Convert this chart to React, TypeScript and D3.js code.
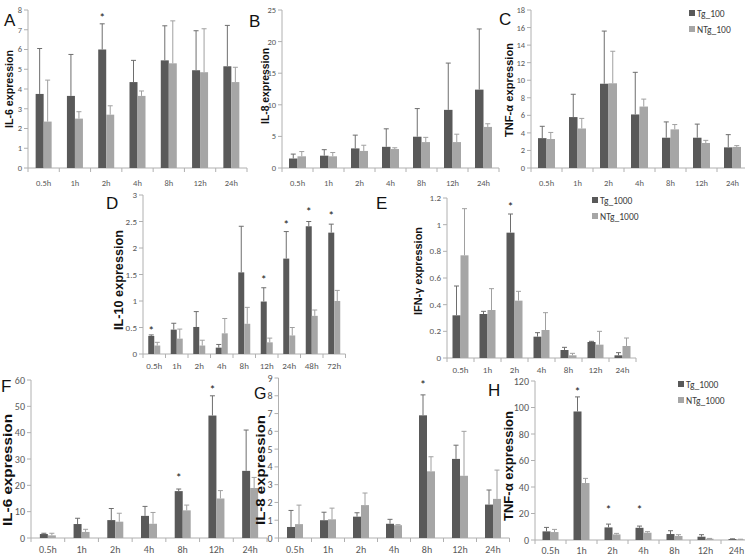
import * as d3 from 'd3'

const cats7 = ['0.5h', '1h', '2h', '4h', '8h', '12h', '24h']
const cats9 = ['0.5h', '1h', '2h', '4h', '8h', '12h', '24h', '48h', '72h']

// A: IL-6, dose 100
const aTg = [3.75, 3.65, 6.0, 4.35, 5.45, 4.95, 5.15]
const aTgErr = [2.3, 2.1, 1.3, 1.1, 1.75, 2.0, 2.07]
const aNTg = [2.35, 2.5, 2.7, 3.65, 5.3, 4.85, 4.35]
const aNTgErr = [2.1, 0.35, 0.45, 0.25, 2.15, 2.2, 0.75]
const aStars: [string, number][] = [['2h', 7.75]]

// B: IL-8, dose 100
const bTg = [1.5, 1.95, 3.1, 3.35, 4.95, 9.2, 12.4]
const bTgErr = [0.7, 0.95, 2.1, 2.85, 4.45, 7.4, 9.6]
const bNTg = [1.85, 1.85, 2.7, 3.0, 4.1, 4.1, 6.5]
const bNTgErr = [0.75, 0.6, 0.9, 0.2, 0.75, 1.25, 0.5]

// C: TNF-a, dose 100
const cTg = [3.4, 5.8, 9.6, 6.1, 3.45, 3.45, 2.35]
const cTgErr = [1.35, 2.6, 6.0, 4.8, 1.8, 1.55, 1.45]
const cNTg = [3.3, 4.5, 9.65, 7.0, 4.4, 2.85, 2.4]
const cNTgErr = [0.75, 1.15, 3.65, 0.85, 0.55, 0.3, 0.15]

// D: IL-10
const dTg = [0.34, 0.46, 0.51, 0.12, 1.54, 0.99, 1.8, 2.41, 2.29]
const dTgErr = [0.02, 0.12, 0.29, 0.06, 0.87, 0.26, 0.51, 0.09, 0.16]
const dNTg = [0.16, 0.29, 0.16, 0.39, 0.57, 0.22, 0.35, 0.72, 1.0]
const dNTgErr = [0.06, 0.18, 0.1, 0.28, 0.31, 0.08, 0.15, 0.11, 0.2]
const dStars: [string, number][] = [['0.5h', 0.5], ['12h', 1.45], ['24h', 2.5], ['48h', 2.74], ['72h', 2.66]]

// E: IFN-g, dose 1000
const eTg = [0.32, 0.33, 0.94, 0.16, 0.06, 0.12, 0.02]
const eTgErr = [0.22, 0.02, 0.14, 0.03, 0.02, 0.005, 0.02]
const eNTg = [0.77, 0.36, 0.43, 0.21, 0.02, 0.1, 0.09]
const eNTgErr = [0.35, 0.16, 0.07, 0.13, 0.015, 0.1, 0.06]
const eStars: [string, number][] = [['2h', 1.155]]

// F: IL-6, dose 1000
const fTg = [1.5, 5.3, 6.8, 8.4, 17.8, 46.5, 25.5]
const fTgErr = [0.3, 2.2, 4.4, 3.6, 0.8, 7.5, 15.5]
const fNTg = [1.0, 2.3, 6.2, 5.4, 10.5, 15, 19]
const fNTgErr = [0.8, 1.0, 3.2, 4.3, 2.0, 3.0, 4.0]
const fStars: [string, number][] = [['8h', 24], ['12h', 57.5]]

// G: IL-8, dose 1000
const gTg = [0.62, 1.0, 1.2, 0.8, 6.9, 4.45, 1.88]
const gTgErr = [0.93, 0.45, 0.22, 0.25, 1.15, 0.77, 0.82]
const gNTg = [0.78, 1.05, 1.85, 0.72, 3.75, 3.5, 2.2]
const gNTgErr = [1.07, 0.63, 0.68, 0.03, 0.82, 2.5, 1.62]
const gStars: [string, number][] = [['8h', 8.75]]

// H: TNF-a, dose 1000
const hTg = [6.5, 97, 9.5, 9.2, 4.5, 2.5, 0.7]
const hTgErr = [3, 11, 2.5, 1.3, 2.5, 1.5, 0.2]
const hNTg = [6, 43, 4.2, 5.5, 3, 1, 0.4]
const hNTgErr = [2, 3.5, 0.8, 0.8, 1, 0.2, 0.2]
const hStars: [string, number][] = [['1h', 114], ['2h', 25], ['4h', 25]]

const TG = '#595959'
const NTG = '#a6a6a6'
const AXIS = '#b0b0b0'
const FONT = "'Carlito', 'Liberation Sans Narrow', 'Liberation Sans', Arial, sans-serif"

interface Panel {
  letter: string
  title: string
  cats: string[]
  tg: number[]
  tgErr: number[]
  ntg: number[]
  ntgErr: number[]
  max: number
  step: number
  stars: [string, number][]
  legend?: string[]
  // layout
  x0: number
  x1: number
  y0: number
  yTop: number
  barW: number
  fs: number
  labelDy: number
  letterAt: [number, number, number]
  titleAt: [number, number, number, number]
  legendAt?: [number, number]
}

const panels: Panel[] = [
  { letter: 'A', title: 'IL-6 expression', cats: cats7, tg: aTg, tgErr: aTgErr, ntg: aNTg, ntgErr: aNTgErr, max: 8, step: 1, stars: aStars,
    x0: 28, x1: 247, y0: 168, yTop: 10, barW: 8, fs: 8.5, labelDy: 18, letterAt: [4, 26, 17], titleAt: [9, 89, 78, 11.5] },
  { letter: 'B', title: 'IL-8 expression', cats: cats7, tg: bTg, tgErr: bTgErr, ntg: bNTg, ntgErr: bNTgErr, max: 25, step: 5, stars: [],
    x0: 282, x1: 499, y0: 168, yTop: 10, barW: 8.5, fs: 8.5, labelDy: 18, letterAt: [249, 27, 17], titleAt: [265, 86, 76, 11.5] },
  { letter: 'C', title: 'TNF-α expression', cats: cats7, tg: cTg, tgErr: cTgErr, ntg: cNTg, ntgErr: cNTgErr, max: 18, step: 2, stars: [],
    legend: ['Tg_100', 'NTg_100'],
    x0: 531, x1: 748, y0: 168, yTop: 10, barW: 8.5, fs: 8.5, labelDy: 18, letterAt: [499, 25, 17], titleAt: [509, 90, 94, 11.5], legendAt: [689, 10] },
  { letter: 'D', title: 'IL-10  expression', cats: cats9, tg: dTg, tgErr: dTgErr, ntg: dNTg, ntgErr: dNTgErr, max: 3, step: 0.5, stars: dStars,
    x0: 143, x1: 345.5, y0: 354, yTop: 195, barW: 6, fs: 9, labelDy: 15, letterAt: [106, 209, 17], titleAt: [119, 280, 100, 12] },
  { letter: 'E', title: 'IFN-γ expression', cats: cats7, tg: eTg, tgErr: eTgErr, ntg: eNTg, ntgErr: eNTgErr, max: 1.2, step: 0.2, stars: eStars,
    legend: ['Tg_1000', 'NTg_1000'],
    x0: 447, x1: 636, y0: 358, yTop: 198, barW: 8, fs: 9, labelDy: 15, letterAt: [376, 209, 17], titleAt: [418, 271, 88, 11.5], legendAt: [592, 197] },
  { letter: 'F', title: 'IL-6 expression', cats: cats7, tg: fTg, tgErr: fTgErr, ntg: fNTg, ntgErr: fNTgErr, max: 60, step: 10, stars: fStars,
    x0: 31, x1: 267, y0: 538, yTop: 380, barW: 8, fs: 10, labelDy: 15, letterAt: [1, 392, 17], titleAt: [7, 470, 112, 13.5] },
  { letter: 'G', title: 'IL-8 expression', cats: cats7, tg: gTg, tgErr: gTgErr, ntg: gNTg, ntgErr: gNTgErr, max: 9, step: 1, stars: gStars,
    x0: 278.5, x1: 509.5, y0: 538, yTop: 378, barW: 8, fs: 10, labelDy: 15, letterAt: [254, 399, 16], titleAt: [260, 470, 110, 13.5] },
  { letter: 'H', title: 'TNF-α expression', cats: cats7, tg: hTg, tgErr: hTgErr, ntg: hNTg, ntgErr: hNTgErr, max: 120, step: 20, stars: hStars,
    legend: ['Tg_1000', 'NTg_1000'],
    x0: 535, x1: 752, y0: 540, yTop: 381, barW: 8, fs: 10, labelDy: 14, letterAt: [488, 396, 17], titleAt: [508, 466, 110, 13.5], legendAt: [678, 381] },
]

function PanelChart({ p }: { p: Panel }) {
  const x = d3.scaleBand<string>().domain(p.cats).range([p.x0, p.x1]).padding(0)
  const y = d3.scaleLinear().domain([0, p.max]).range([p.y0, p.yTop])
  const ticks = d3.range(0, p.max + p.step / 2, p.step).map(v => +v.toFixed(2))
  const bounds = d3.range(p.cats.length + 1).map(i => p.x0 + i * x.bandwidth())
  const cap = 2.5

  const series = [
    { vals: p.tg, errs: p.tgErr, fill: TG, err: '#6e6e6e', off: -p.barW },
    { vals: p.ntg, errs: p.ntgErr, fill: NTG, err: '#a0a0a0', off: 0 },
  ]

  return (
    <g fontFamily={FONT}>
      {/* y axis */}
      <line x1={p.x0} x2={p.x0} y1={p.yTop} y2={p.y0} stroke={AXIS} />
      {ticks.map(t => (
        <g key={t}>
          <line x1={p.x0 - 4} x2={p.x0} y1={y(t)} y2={y(t)} stroke={AXIS} />
          <text x={p.x0 - 6} y={y(t)} dy="0.35em" textAnchor="end" fontSize={p.fs} fill="#595959">{t}</text>
        </g>
      ))}

      {/* x axis */}
      <line x1={p.x0} x2={p.x1} y1={p.y0} y2={p.y0} stroke={AXIS} />
      {bounds.map(b => (
        <line key={b} x1={b} x2={b} y1={p.y0} y2={p.y0 + 4} stroke={AXIS} />
      ))}
      {p.cats.map(c => (
        <text key={c} x={x(c)! + x.bandwidth() / 2} y={p.y0 + p.labelDy} textAnchor="middle" fontSize={p.fs} fill="#595959">{c}</text>
      ))}

      {/* bars + error bars */}
      {series.map((s, si) =>
        p.cats.map((c, i) => {
          const cx = x(c)! + x.bandwidth() / 2 + s.off
          const top = y(s.vals[i])
          const et = y(s.vals[i] + s.errs[i])
          const mid = cx + p.barW / 2
          return (
            <g key={`${si}-${c}`}>
              <rect x={cx} y={top} width={p.barW} height={p.y0 - top} fill={s.fill} />
              <line x1={mid} x2={mid} y1={top} y2={et} stroke={s.err} strokeWidth={1} />
              <line x1={mid - cap} x2={mid + cap} y1={et} y2={et} stroke={s.err} strokeWidth={1} />
            </g>
          )
        })
      )}

      {/* significance */}
      {p.stars.map(([c, v]) => (
        <text key={c} x={x(c)! + x.bandwidth() / 2 - p.barW / 2} y={y(v) + 7} textAnchor="middle" fontSize={12} fill="#222">*</text>
      ))}

      {/* panel letter */}
      <text x={p.letterAt[0]} y={p.letterAt[1]} fontSize={p.letterAt[2]} fill="#111" fontFamily="'Liberation Sans', Arial, sans-serif">{p.letter}</text>

      {/* y title */}
      <text
        transform={`translate(${p.titleAt[0]},${p.titleAt[1]}) rotate(-90)`}
        textAnchor="middle"
        dominantBaseline="central"
        fontSize={p.titleAt[3]}
        fontWeight="bold"
        fill="#111"
        fontFamily="'Liberation Sans', Arial, sans-serif"
        textLength={p.titleAt[2]}
        lengthAdjust="spacingAndGlyphs"
      >{p.title}</text>

      {/* legend */}
      {p.legend && p.legendAt && p.legend.map((name, i) => (
        <g key={name} transform={`translate(${p.legendAt![0]},${p.legendAt![1] + i * 16})`}>
          <rect x={0} y={0} width={6} height={6} fill={i === 0 ? TG : NTG} />
          <text x={8} y={6.5} fontSize={9.5} fill="#404040">{name}</text>
        </g>
      ))}
    </g>
  )
}

export default function App() {
  return (
    <svg width={745} height={557} style={{ position: 'absolute', left: 0, top: 0, background: '#fff' }}>
      <rect width={745} height={557} fill="#fff" />
      {panels.map(p => <PanelChart key={p.letter} p={p} />)}
    </svg>
  )
}
